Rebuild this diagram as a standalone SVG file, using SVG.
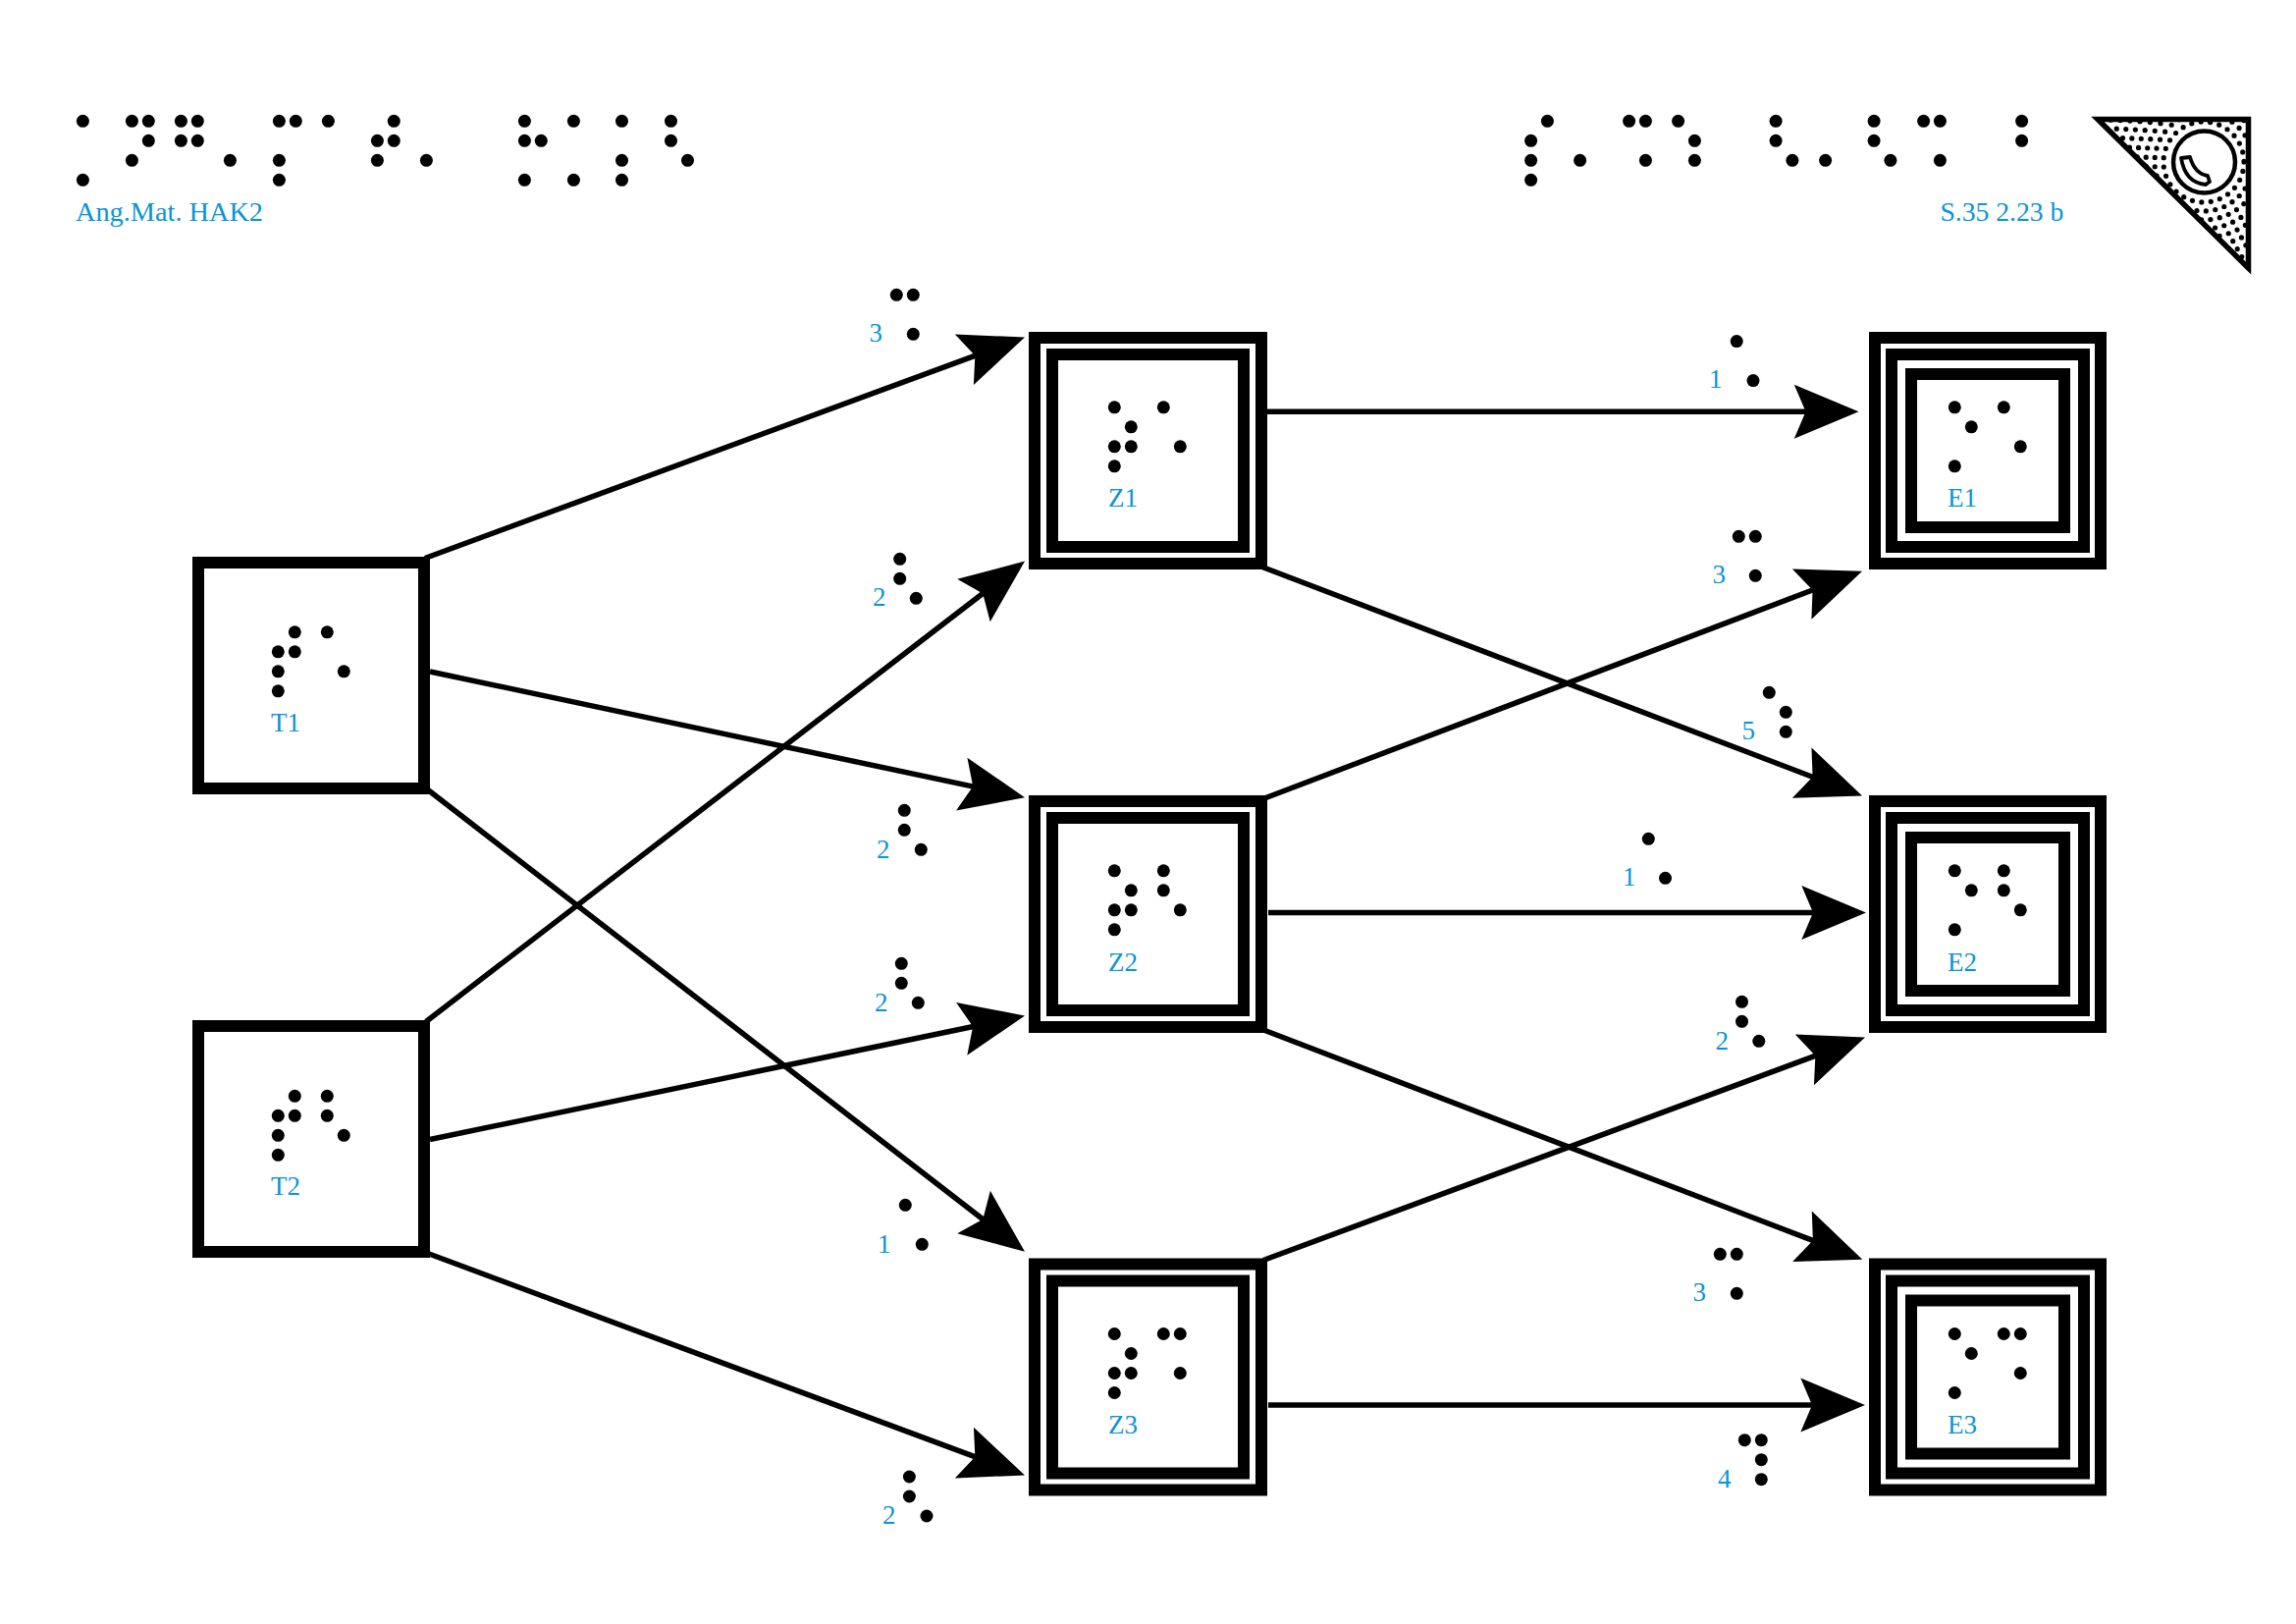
<svg xmlns="http://www.w3.org/2000/svg" width="2339" height="1654" viewBox="0 0 2339 1654">
<style>
text{font-family:"Liberation Serif","Times New Roman",serif;font-size:27px;fill:#0a94d6}
circle.d{fill:#000}
.edge{fill:none;stroke:#000;stroke-width:5.5;marker-end:url(#head)}
.box{fill:none;stroke:#000;stroke-width:12}
</style>
<defs>
<marker id="head" markerUnits="userSpaceOnUse" viewBox="-20 -30 72 60" markerWidth="72" markerHeight="60" refX="0" refY="0" orient="auto" overflow="visible">
<path d="M50 0L-15.7 -27.5L-4 0L-15.7 27.5Z" fill="#000"/>
</marker>
<clipPath id="tri"><path d="M2135 120H2292V276Z"/></clipPath>
</defs>
<rect width="2339" height="1654" fill="#fff"/>

<g id="connectors">
<line class="edge" x1="433" y1="568.5" x2="997.1" y2="360.8"/>
<line class="edge" x1="438" y1="684" x2="995.1" y2="801.85"/>
<line class="edge" x1="436" y1="804.500" x2="1004.45" y2="1244.2"/>
<line class="edge" x1="434" y1="1040.5" x2="1004.4" y2="602"/>
<line class="edge" x1="438" y1="1160.5" x2="995.05" y2="1044.7"/>
<line class="edge" x1="433" y1="1275.5" x2="997.1" y2="1485.1"/>
<line class="edge" x1="1291" y1="419.3" x2="1843.5" y2="419.3"/>
<line class="edge" x1="1286" y1="577.5" x2="1850.3" y2="792.7"/>
<line class="edge" x1="1287" y1="813.5" x2="1850.3" y2="599.55"/>
<line class="edge" x1="1292" y1="929.5" x2="1851" y2="929.5"/>
<line class="edge" x1="1286" y1="1048.5" x2="1850.6" y2="1264.9"/>
<line class="edge" x1="1287" y1="1283.5" x2="1853.1" y2="1073.9"/>
<line class="edge" x1="1292" y1="1431" x2="1850" y2="1431"/>
</g>

<g id="header-left">
<g id="header-left-dots">
<circle class="d" r="6.5" cx="84.4" cy="123.3"/><circle class="d" r="6.5" cx="134.4" cy="123.3"/><circle class="d" r="6.5" cx="151.3" cy="123.3"/><circle class="d" r="6.5" cx="184.4" cy="123.3"/><circle class="d" r="6.5" cx="201.3" cy="123.3"/><circle class="d" r="6.5" cx="284.4" cy="123.3"/><circle class="d" r="6.5" cx="301.3" cy="123.3"/><circle class="d" r="6.5" cx="334.4" cy="123.3"/><circle class="d" r="6.5" cx="401.3" cy="123.3"/><circle class="d" r="6.5" cx="534.4" cy="123.3"/><circle class="d" r="6.5" cx="584.4" cy="123.3"/><circle class="d" r="6.5" cx="633.5" cy="123.3"/><circle class="d" r="6.5" cx="683.5" cy="123.3"/>
<circle class="d" r="6.5" cx="151.3" cy="143.3"/><circle class="d" r="6.5" cx="184.4" cy="143.3"/><circle class="d" r="6.5" cx="201.3" cy="143.3"/><circle class="d" r="6.5" cx="384.4" cy="143.3"/><circle class="d" r="6.5" cx="401.3" cy="143.3"/><circle class="d" r="6.5" cx="534.4" cy="143.3"/><circle class="d" r="6.5" cx="551.3" cy="143.3"/><circle class="d" r="6.5" cx="683.5" cy="143.3"/>
<circle class="d" r="6.5" cx="134.4" cy="163.3"/><circle class="d" r="6.5" cx="234.4" cy="163.3"/><circle class="d" r="6.5" cx="284.4" cy="163.3"/><circle class="d" r="6.5" cx="384.4" cy="163.3"/><circle class="d" r="6.5" cx="434.4" cy="163.3"/><circle class="d" r="6.5" cx="633.5" cy="163.3"/><circle class="d" r="6.5" cx="700.5" cy="163.3"/>
<circle class="d" r="6.5" cx="84.4" cy="183.3"/><circle class="d" r="6.5" cx="284.4" cy="183.3"/><circle class="d" r="6.5" cx="534.4" cy="183.3"/><circle class="d" r="6.5" cx="584.4" cy="183.3"/><circle class="d" r="6.5" cx="633.5" cy="183.3"/>
</g>
<text x="77" y="225" textLength="191" lengthAdjust="spacingAndGlyphs">Ang.Mat. HAK2</text>
</g>

<g id="header-right">
<g id="header-right-dots">
<circle class="d" r="6.5" cx="1576.4" cy="123.3"/><circle class="d" r="6.5" cx="1659.6" cy="123.3"/><circle class="d" r="6.5" cx="1676.4" cy="123.3"/><circle class="d" r="6.5" cx="1709.6" cy="123.3"/><circle class="d" r="6.5" cx="1809.1" cy="123.3"/><circle class="d" r="6.5" cx="1909.1" cy="123.3"/><circle class="d" r="6.5" cx="1959.6" cy="123.3"/><circle class="d" r="6.5" cx="1976.4" cy="123.3"/><circle class="d" r="6.5" cx="2059.6" cy="123.3"/>
<circle class="d" r="6.5" cx="1559.6" cy="143.3"/><circle class="d" r="6.5" cx="1726.4" cy="143.3"/><circle class="d" r="6.5" cx="1809.1" cy="143.3"/><circle class="d" r="6.5" cx="1909.1" cy="143.3"/><circle class="d" r="6.5" cx="2059.6" cy="143.3"/>
<circle class="d" r="6.5" cx="1559.6" cy="163.3"/><circle class="d" r="6.5" cx="1609.6" cy="163.3"/><circle class="d" r="6.5" cx="1676.4" cy="163.3"/><circle class="d" r="6.5" cx="1726.4" cy="163.3"/><circle class="d" r="6.5" cx="1825.9" cy="163.3"/><circle class="d" r="6.5" cx="1859.6" cy="163.3"/><circle class="d" r="6.5" cx="1925.9" cy="163.3"/><circle class="d" r="6.5" cx="1976.4" cy="163.3"/>
<circle class="d" r="6.5" cx="1559.6" cy="183.3"/>
</g>
<text x="1976.4" y="225" textLength="126" lengthAdjust="spacingAndGlyphs">S.35 2.23 b</text>
</g>

<g id="corner-badge">
<g clip-path="url(#tri)" fill="none" stroke="#000" stroke-width="5.2" stroke-linecap="round" stroke-dasharray="0 9.5">
<circle cx="2245" cy="165" r="41"/><circle cx="2245" cy="165" r="50"/><circle cx="2245" cy="165" r="59"/><circle cx="2245" cy="165" r="68"/><circle cx="2245" cy="165" r="77"/><circle cx="2245" cy="165" r="86"/><circle cx="2245" cy="165" r="95"/><circle cx="2245" cy="165" r="104"/><circle cx="2245" cy="165" r="113"/>
</g>
<path d="M2137 121.500H2290.500V273Z" fill="none" stroke="#000" stroke-width="5.5" stroke-linejoin="miter"/>
<circle cx="2245.5" cy="165" r="31.5" fill="#fff" stroke="#000" stroke-width="4.500"/>
<path d="M2222 161L2231 160Q2236 177 2249 179L2251 185L2247 188Q2226 186 2222 161Z" fill="none" stroke="#000" stroke-width="3.800" stroke-linejoin="round"/>
</g>

<g id="node-T1">
<rect class="box" x="202" y="573" width="230" height="230"/>
<circle class="d" r="6.5" cx="300.3" cy="643.8"/><circle class="d" r="6.5" cx="333.3" cy="643.8"/><circle class="d" r="6.5" cx="283.3" cy="663.8"/><circle class="d" r="6.5" cx="300.3" cy="663.8"/><circle class="d" r="6.5" cx="283.3" cy="683.8"/><circle class="d" r="6.5" cx="350.3" cy="683.8"/><circle class="d" r="6.5" cx="283.3" cy="703.8"/>
<text x="276" y="745">T1</text>
</g>
<g id="node-T2">
<rect class="box" x="202" y="1045" width="230" height="230"/>
<circle class="d" r="6.5" cx="300.3" cy="1116.3"/><circle class="d" r="6.5" cx="333.3" cy="1116.3"/><circle class="d" r="6.5" cx="283.3" cy="1136.3"/><circle class="d" r="6.5" cx="300.3" cy="1136.3"/><circle class="d" r="6.5" cx="333.3" cy="1136.3"/><circle class="d" r="6.5" cx="283.3" cy="1156.3"/><circle class="d" r="6.5" cx="350.3" cy="1156.3"/><circle class="d" r="6.5" cx="283.3" cy="1176.3"/>
<text x="276" y="1217">T2</text>
</g>

<g id="node-Z1">
<rect class="box" x="1054" y="344" width="231" height="230"/><rect class="box" x="1072" y="361" width="195" height="196"/>
<circle class="d" r="6.5" cx="1135.3" cy="414.8"/><circle class="d" r="6.5" cx="1185.3" cy="414.8"/><circle class="d" r="6.5" cx="1152.3" cy="434.8"/><circle class="d" r="6.5" cx="1135.3" cy="454.8"/><circle class="d" r="6.5" cx="1152.3" cy="454.8"/><circle class="d" r="6.5" cx="1202.3" cy="454.8"/><circle class="d" r="6.5" cx="1135.3" cy="474.8"/>
<text x="1129" y="516">Z1</text>
</g>
<g id="node-Z2">
<rect class="box" x="1054" y="816" width="231" height="230"/><rect class="box" x="1072" y="833" width="195" height="196"/>
<circle class="d" r="6.5" cx="1135.3" cy="886.8"/><circle class="d" r="6.5" cx="1185.3" cy="886.8"/><circle class="d" r="6.5" cx="1152.3" cy="906.8"/><circle class="d" r="6.5" cx="1185.3" cy="906.8"/><circle class="d" r="6.5" cx="1135.3" cy="926.8"/><circle class="d" r="6.5" cx="1152.3" cy="926.8"/><circle class="d" r="6.5" cx="1202.3" cy="926.8"/><circle class="d" r="6.5" cx="1135.3" cy="946.8"/>
<text x="1129" y="988.5">Z2</text>
</g>
<g id="node-Z3">
<rect class="box" x="1054" y="1287.5" width="231" height="230"/><rect class="box" x="1072" y="1304.5" width="195" height="196"/>
<circle class="d" r="6.5" cx="1135.3" cy="1358.5"/><circle class="d" r="6.5" cx="1185.3" cy="1358.5"/><circle class="d" r="6.5" cx="1202.3" cy="1358.5"/><circle class="d" r="6.5" cx="1152.3" cy="1378.5"/><circle class="d" r="6.5" cx="1135.3" cy="1398.5"/><circle class="d" r="6.5" cx="1152.3" cy="1398.5"/><circle class="d" r="6.5" cx="1202.3" cy="1398.5"/><circle class="d" r="6.5" cx="1135.3" cy="1418.5"/>
<text x="1129" y="1460">Z3</text>
</g>

<g id="node-E1">
<rect class="box" x="1910" y="344" width="230" height="230"/><rect class="box" x="1927" y="361" width="196" height="196"/><rect class="box" x="1947" y="381" width="156" height="156"/>
<circle class="d" r="6.5" cx="1991.3" cy="414.8"/><circle class="d" r="6.5" cx="2041.3" cy="414.8"/><circle class="d" r="6.5" cx="2008.3" cy="434.8"/><circle class="d" r="6.5" cx="2058.3" cy="454.8"/><circle class="d" r="6.5" cx="1991.3" cy="474.8"/>
<text x="1984" y="516">E1</text>
</g>
<g id="node-E2">
<rect class="box" x="1910" y="816" width="230" height="230"/><rect class="box" x="1927" y="833" width="196" height="196"/><rect class="box" x="1947" y="853" width="156" height="156"/>
<circle class="d" r="6.5" cx="1991.3" cy="886.8"/><circle class="d" r="6.5" cx="2041.3" cy="886.8"/><circle class="d" r="6.5" cx="2008.3" cy="906.8"/><circle class="d" r="6.5" cx="2041.3" cy="906.8"/><circle class="d" r="6.5" cx="2058.3" cy="926.8"/><circle class="d" r="6.5" cx="1991.3" cy="946.8"/>
<text x="1984" y="988.5">E2</text>
</g>
<g id="node-E3">
<rect class="box" x="1910" y="1287.5" width="230" height="230"/><rect class="box" x="1927" y="1304.5" width="196" height="196"/><rect class="box" x="1947" y="1324.5" width="156" height="156"/>
<circle class="d" r="6.5" cx="1991.3" cy="1358.5"/><circle class="d" r="6.5" cx="2041.3" cy="1358.5"/><circle class="d" r="6.5" cx="2058.3" cy="1358.5"/><circle class="d" r="6.5" cx="2008.3" cy="1378.5"/><circle class="d" r="6.5" cx="2058.3" cy="1398.5"/><circle class="d" r="6.5" cx="1991.3" cy="1418.5"/>
<text x="1984" y="1460">E3</text>
</g>

<g id="edge-labels">
<g><circle class="d" r="6.5" cx="913.3" cy="300.3"/><circle class="d" r="6.5" cx="930.3" cy="300.3"/><circle class="d" r="6.5" cx="930.3" cy="340.3"/><text x="885.5" y="348">3</text></g>
<g><circle class="d" r="6.5" cx="916.7" cy="569.3"/><circle class="d" r="6.5" cx="916.7" cy="589.3"/><circle class="d" r="6.5" cx="933.3" cy="609.3"/><text x="889" y="617">2</text></g>
<g><circle class="d" r="6.5" cx="921.3" cy="825.3"/><circle class="d" r="6.5" cx="921.3" cy="845.3"/><circle class="d" r="6.5" cx="938.3" cy="865.3"/><text x="893" y="873.5">2</text></g>
<g><circle class="d" r="6.5" cx="918.3" cy="981.3"/><circle class="d" r="6.5" cx="918.3" cy="1001.3"/><circle class="d" r="6.5" cx="935.3" cy="1021.3"/><text x="891" y="1029.500">2</text></g>
<g><circle class="d" r="6.5" cx="922.3" cy="1227.3"/><circle class="d" r="6.5" cx="939.3" cy="1267.3"/><text x="894" y="1276">1</text></g>
<g><circle class="d" r="6.5" cx="926.4" cy="1504"/><circle class="d" r="6.5" cx="926.4" cy="1524"/><circle class="d" r="6.5" cx="944" cy="1544"/><text x="899" y="1551.500">2</text></g>
<g><circle class="d" r="6.5" cx="1769.2" cy="347.6"/><circle class="d" r="6.5" cx="1786" cy="387.6"/><text x="1741" y="395">1</text></g>
<g><circle class="d" r="6.5" cx="1771.3" cy="546.3"/><circle class="d" r="6.5" cx="1788.3" cy="546.3"/><circle class="d" r="6.5" cx="1788.3" cy="586.3"/><text x="1744.5" y="594">3</text></g>
<g><circle class="d" r="6.5" cx="1802.3" cy="705.3"/><circle class="d" r="6.5" cx="1819.3" cy="725.3"/><circle class="d" r="6.5" cx="1819.3" cy="745.3"/><text x="1774.5" y="752.700">5</text></g>
<g><circle class="d" r="6.5" cx="1679.3" cy="854.3"/><circle class="d" r="6.5" cx="1696.5" cy="894.3"/><text x="1653" y="902">1</text></g>
<g><circle class="d" r="6.5" cx="1774.5" cy="1020.3"/><circle class="d" r="6.5" cx="1774.5" cy="1040.3"/><circle class="d" r="6.5" cx="1791.8" cy="1060.3"/><text x="1747.6" y="1068.5">2</text></g>
<g><circle class="d" r="6.5" cx="1752.3" cy="1277.3"/><circle class="d" r="6.5" cx="1769.3" cy="1277.3"/><circle class="d" r="6.5" cx="1769.3" cy="1317.3"/><text x="1724.5" y="1325">3</text></g>
<g><circle class="d" r="6.5" cx="1777.3" cy="1466.7"/><circle class="d" r="6.5" cx="1794.3" cy="1466.7"/><circle class="d" r="6.5" cx="1794.3" cy="1486.7"/><circle class="d" r="6.5" cx="1794.3" cy="1506.7"/><text x="1750" y="1514.500">4</text></g>
</g>
</svg>
